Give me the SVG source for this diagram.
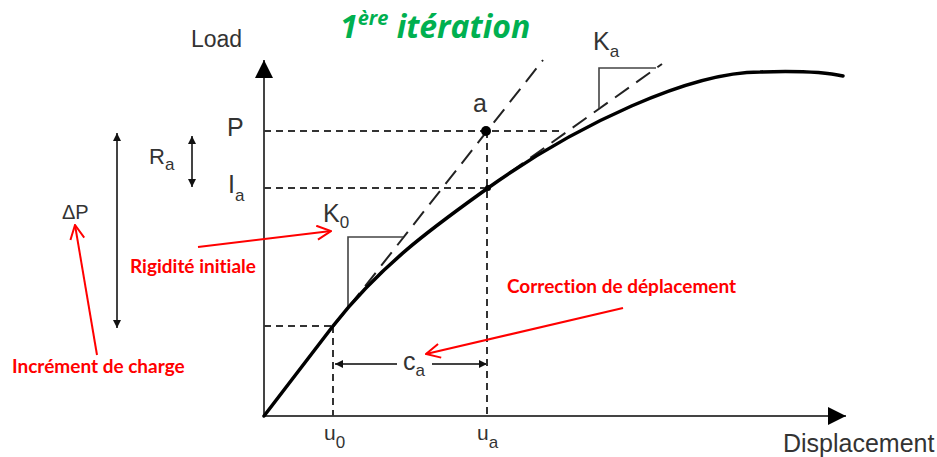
<svg xmlns="http://www.w3.org/2000/svg" width="937" height="457" viewBox="0 0 937 457">
<defs>
<style>
.lbl{font-family:"Liberation Sans",Arial,sans-serif;fill:#333;}
.red{font-family:Lato,"Liberation Sans",sans-serif;font-weight:bold;fill:#ff0000;font-size:19px;font-variant-ligatures:none;}
.ax{stroke:#444;stroke-width:2;fill:none;}
.dash{stroke:#333;stroke-width:2;stroke-dasharray:7 5;fill:none;}
.tan{stroke:#222;stroke-width:2;stroke-dasharray:17 9;fill:none;}
.thin{stroke:#444;stroke-width:1.6;fill:none;}
.ra{stroke:#ff0000;stroke-width:2;fill:none;}
</style>
<marker id="ah" viewBox="0 0 10 10" refX="10" refY="5" markerWidth="30" markerHeight="18" markerUnits="userSpaceOnUse" orient="auto">
<path d="M0,0 L10,5 L0,10 Z" fill="#000"/>
</marker>
<marker id="sh" viewBox="0 0 10 10" refX="10" refY="5" markerWidth="13" markerHeight="8" markerUnits="userSpaceOnUse" orient="auto-start-reverse">
<path d="M0,0 L10,5 L0,10 Z" fill="#111"/>
</marker>
<marker id="open" viewBox="0 0 16 16" refX="15" refY="8" markerWidth="16" markerHeight="16" markerUnits="userSpaceOnUse" orient="auto">
<path d="M1,1 L15,8 L1,15" fill="none" stroke="#ff0000" stroke-width="2"/>
</marker>
</defs>
<rect width="937" height="457" fill="#fff"/>

<g id="title">
<text x="340" y="38" font-family="'Open Sans','Liberation Sans',sans-serif" font-weight="bold" font-style="italic" font-size="32" fill="#00b050" style="font-variant-ligatures:none">1<tspan font-size="20" dy="-13">ère</tspan><tspan dy="13"> itération</tspan></text>
</g>

<g id="axes">
<line class="ax" x1="264" y1="416" x2="264" y2="60" marker-end="url(#ah)"/>
<line class="ax" x1="264" y1="416" x2="846" y2="416" marker-end="url(#ah)"/>
<text class="lbl" x="191" y="47" font-size="23">Load</text>
<text class="lbl" x="783" y="452" font-size="25">Displacement</text>
</g>

<g id="guides">
<line class="dash" x1="264" y1="131" x2="563" y2="131"/>
<line class="dash" x1="264" y1="188" x2="488" y2="188"/>
<line class="dash" x1="264" y1="326" x2="333" y2="326"/>
<line class="dash" x1="487" y1="131" x2="487" y2="416"/>
<line class="dash" x1="333" y1="326" x2="333" y2="416"/>
</g>

<g id="tangents">
<line class="tan" x1="333" y1="327" x2="543" y2="60"/>
<line class="tan" x1="488" y1="188" x2="662" y2="64"/>
<polyline class="thin" points="348,306 348,237 403,237"/>
<polyline class="thin" points="599,108 599,68 656,68"/>
</g>

<g id="curve">
<path d="M264,416 L333,326 C383,262 438,224 488,188 C578,124 690,72 760,72 C790,71 820,71 843,76" fill="none" stroke="#000" stroke-width="3.5" stroke-linecap="round"/>
</g>

<g id="points">
<circle cx="486" cy="131" r="5" fill="#000"/>
<circle cx="488" cy="188" r="3" fill="#000"/>
<text class="lbl" x="473" y="112" font-size="25">a</text>
</g>

<g id="labels">
<text class="lbl" x="227" y="136" font-size="25">P</text>
<text class="lbl" x="228" y="193" font-size="25">I<tspan font-size="17" dy="8">a</tspan></text>
<text class="lbl" x="149" y="164" font-size="22">R<tspan font-size="17" dy="6">a</tspan></text>
<text class="lbl" x="62" y="219" font-size="20">ΔP</text>
<text class="lbl" x="323" y="222" font-size="25">K<tspan font-size="17" dy="6">0</tspan></text>
<text class="lbl" x="593" y="50" font-size="25">K<tspan font-size="17" dy="7">a</tspan></text>
<text class="lbl" x="324" y="440" font-size="21">u<tspan font-size="17" dy="8">0</tspan></text>
<text class="lbl" x="477" y="440" font-size="21">u<tspan font-size="17" dy="8">a</tspan></text>
<text class="lbl" x="403" y="370" font-size="25">c<tspan font-size="17" dy="6">a</tspan></text>
</g>

<g id="dimensions">
<line class="ax" x1="192" y1="136" x2="192" y2="187" marker-start="url(#sh)" marker-end="url(#sh)"/>
<line class="ax" x1="117" y1="133" x2="117" y2="328" marker-start="url(#sh)" marker-end="url(#sh)"/>
<line class="ax" x1="397" y1="364" x2="335" y2="364" marker-end="url(#sh)"/>
<line class="ax" x1="432" y1="364" x2="487" y2="364" marker-end="url(#sh)"/>
</g>

<g id="annotations">
<line class="ra" x1="198" y1="247" x2="331" y2="231" marker-end="url(#open)"/>
<text class="red" x="130" y="273">Rigidité initiale</text>
<line class="ra" x1="97" y1="355" x2="75" y2="225" marker-end="url(#open)"/>
<text class="red" x="12" y="373">Incrément de charge</text>
<line class="ra" x1="623" y1="308" x2="426" y2="354" marker-end="url(#open)"/>
<text class="red" x="507" y="293">Correction de déplacement</text>
</g>
</svg>
